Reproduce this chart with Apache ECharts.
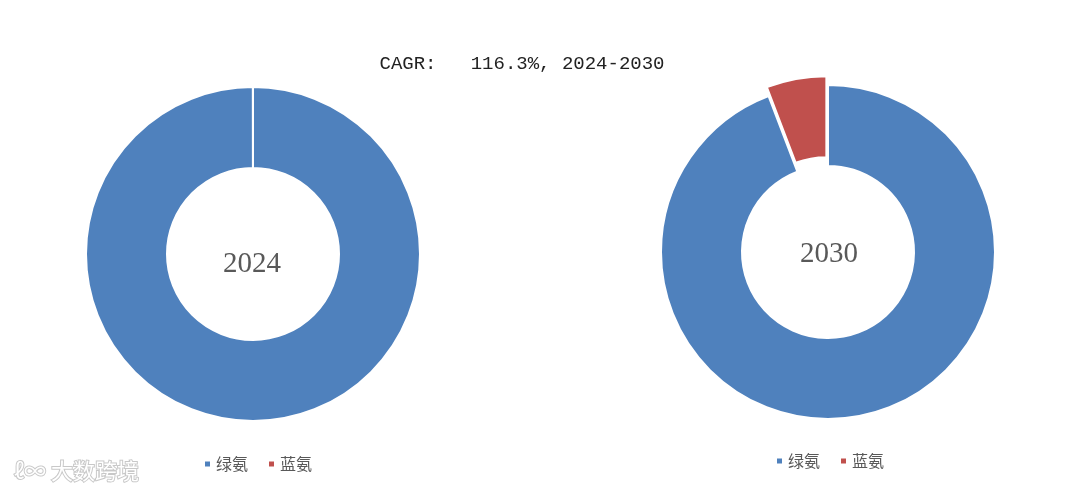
<!DOCTYPE html>
<html><head><meta charset="utf-8">
<script src="https://cdn.jsdelivr.net/npm/echarts@6/dist/echarts.min.js"></script>
<style>html,body{margin:0;padding:0;background:#fff}#c{width:1080px;height:495px}</style>
</head><body><div id="c"></div>
<script>
const categories = ['绿氨', '蓝氨'];
const values2024 = [99.99, 0.01];
const values2030 = [94.2, 5.8];
const years = ['2024', '2030'];
const titleText = 'CAGR:   116.3%, 2024-2030';
const colors = ['#4F81BD', '#C0504D'];

const chart = echarts.init(document.getElementById('c'));
function mkData(vals, selIdx) {
  return categories.map((n, i) => ({ name: n, value: vals[i], selected: i === selIdx }));
}
const common = {
  type: 'pie', radius: [86, 167], startAngle: 90, clockwise: true,
  label: { show: false }, labelLine: { show: false },
  itemStyle: { borderColor: '#fff', borderWidth: 2 },
  emphasis: { disabled: true }, animation: false,
  selectedMode: 'single', selectedOffset: 9
};
const legendText = { fontSize: 16, color: '#595959', fontFamily: 'Noto Sans CJK SC' };
chart.setOption({
  color: colors,
  animation: false,
  title: { text: titleText, left: 517, top: 49, textAlign: 'center',
    textStyle: { fontFamily: 'Liberation Mono', fontWeight: 'normal', fontSize: 19, color: '#222' } },
  legend: [
    { data: categories, left: 198, top: 451, icon: 'rect', itemWidth: 7, itemHeight: 7, itemGap: 19,
      selectedMode: false, textStyle: legendText },
    { data: categories, left: 770, top: 448, icon: 'rect', itemWidth: 7, itemHeight: 7, itemGap: 19,
      selectedMode: false, textStyle: legendText }
  ],
  graphic: [
    { type: 'text', x: 252, y: 264, style: { text: years[0], textAlign: 'center', textVerticalAlign: 'middle',
      font: '29px "Liberation Serif"', fill: '#595959' } },
    { type: 'text', x: 829, y: 254, style: { text: years[1], textAlign: 'center', textVerticalAlign: 'middle',
      font: '29px "Liberation Serif"', fill: '#595959' } },
    { type: 'text', x: 14, y: 460, style: { text: 'ℓ∞ 大数跨境', font: '22px "Noto Sans CJK SC"',
      fill: '#fff', stroke: '#c8c8c8', lineWidth: 2 } }
  ],
  series: [
    Object.assign({}, common, { name: years[0], center: [253, 254], data: mkData(values2024, -1) }),
    Object.assign({}, common, { name: years[1], center: [828, 252], data: mkData(values2030, 1) })
  ]
});
</script></body></html>
